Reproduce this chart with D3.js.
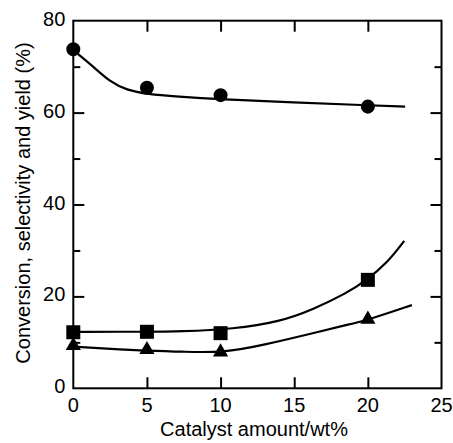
<!DOCTYPE html>
<html>
<head>
    <style>
        body { margin: 0; background: #fff; }
        svg text { font-family: "Liberation Sans", Arial, sans-serif; fill: #000; }
        .tick-label { font-size: 20px; }
        .title { font-size: 20px; }
    </style>
    <script src="https://d3js.org/d3.v7.min.js"></script>
</head>
<body>
    <svg width="453" height="443"></svg>
    <script>

    // measured points
    var catalyst = [0, 5, 10, 20];
    var conversion = [73.8, 65.4, 63.8, 61.3];   // circles
    var selectivity = [12.2, 12.3, 12.0, 23.6];  // squares
    var yieldPct = [9.3, 8.4, 7.9, 15.0];        // triangles

    // fitted curves
    var convCurveX = [0, 1.36, 2.49, 3.62, 5.03, 7.02, 9.97, 14.95, 19.93, 22.53];
    var convCurveY = [73.6, 70.0, 66.7, 64.9, 64.0, 63.5, 62.9, 62.2, 61.6, 61.3];
    var selCurveX = [0, 5, 7.26, 10.87, 14.04, 16.3, 18.57, 19.93, 21.29, 22.47];
    var selCurveY = [12.3, 12.3, 12.35, 12.9, 14.5, 17.2, 20.7, 23.6, 27.2, 32.1];
    var yldCurveX = [0, 5, 7.26, 10.19, 12.9, 16.3, 18.57, 20.04, 22.99];
    var yldCurveY = [9.05, 8.1, 8.0, 7.7, 9.4, 12.0, 13.8, 14.9, 18.1];

    var xTicks = [0, 5, 10, 15, 20, 25];
    var yMajor = [0, 20, 40, 60, 80];
    var yMinor = [10, 30, 50, 70];

    function chart() {
        var svg = d3.select("svg");
        var left = 73.3, right = 441.5, top = 20.7, bottom = 388.3;

        var x = d3.scaleLinear().domain([0, 25]).range([left, right]);
        var y = d3.scaleLinear().domain([0, 80]).range([bottom, top]);

        var g = svg.append("g");

        // frame
        g.append("rect")
         .attr("x", left).attr("y", top)
         .attr("width", right - left).attr("height", bottom - top)
         .attr("fill", "none").attr("stroke", "#000").attr("stroke-width", 2);

        // inner ticks via axes
        var tickStyle = function(sel) {
            sel.select(".domain").remove();
            sel.selectAll("line").attr("stroke", "#000").attr("stroke-width", 2);
            sel.selectAll("text").remove();
        };
        g.append("g").attr("transform", "translate(0," + bottom + ")")
         .call(d3.axisTop(x).tickValues(xTicks.slice(1, 5)).tickSizeInner(11).tickSizeOuter(0))
         .call(tickStyle);
        g.append("g").attr("transform", "translate(0," + top + ")")
         .call(d3.axisBottom(x).tickValues(xTicks.slice(1, 5)).tickSizeInner(11).tickSizeOuter(0))
         .call(tickStyle);
        [[yMajor.slice(1, 4), 11], [yMinor, 7]].forEach(function(t) {
            g.append("g").attr("transform", "translate(" + left + ",0)")
             .call(d3.axisRight(y).tickValues(t[0]).tickSizeInner(t[1]).tickSizeOuter(0))
             .call(tickStyle);
            g.append("g").attr("transform", "translate(" + right + ",0)")
             .call(d3.axisLeft(y).tickValues(t[0]).tickSizeInner(t[1]).tickSizeOuter(0))
             .call(tickStyle);
        });

        // tick labels
        g.selectAll(".xl").data(xTicks).enter().append("text")
         .attr("class", "tick-label")
         .attr("x", function(d) { return x(d); })
         .attr("y", bottom + 23.5)
         .attr("text-anchor", "middle")
         .text(function(d) { return d; });
        g.selectAll(".yl").data(yMajor).enter().append("text")
         .attr("class", "tick-label")
         .attr("x", left - 8)
         .attr("y", function(d) { return y(d) + 5; })
         .attr("text-anchor", "end")
         .text(function(d) { return d; });

        // axis titles
        svg.append("text").attr("class", "title")
           .attr("x", 254).attr("y", 436)
           .attr("text-anchor", "middle")
           .text("Catalyst amount/wt%");
        svg.append("text").attr("class", "title")
           .attr("transform", "translate(29.5,203) rotate(-90)")
           .attr("text-anchor", "middle")
           .text("Conversion, selectivity and yield (%)");

        // curves
        var line = d3.line()
                     .x(function(d) { return x(d[0]); })
                     .y(function(d) { return y(d[1]); })
                     .curve(d3.curveBasis);
        [[convCurveX, convCurveY], [selCurveX, selCurveY], [yldCurveX, yldCurveY]].forEach(function(c) {
            g.append("path")
             .attr("d", line(d3.zip(c[0], c[1])))
             .attr("fill", "none").attr("stroke", "#000").attr("stroke-width", 2.2);
        });

        // markers
        var series = [
            { vals: conversion, sym: d3.symbolCircle, size: 154 },
            { vals: selectivity, sym: d3.symbolSquare, size: 196 },
            { vals: yieldPct, sym: d3.symbolTriangle, size: 100 }
        ];
        series.forEach(function(s) {
            g.selectAll(null).data(d3.zip(catalyst, s.vals)).enter().append("path")
             .attr("transform", function(d) { return "translate(" + x(d[0]) + "," + y(d[1]) + ")"; })
             .attr("d", d3.symbol().type(s.sym).size(s.size))
             .attr("fill", "#000");
        });
    }
    chart();
    </script>
</body>
</html>
